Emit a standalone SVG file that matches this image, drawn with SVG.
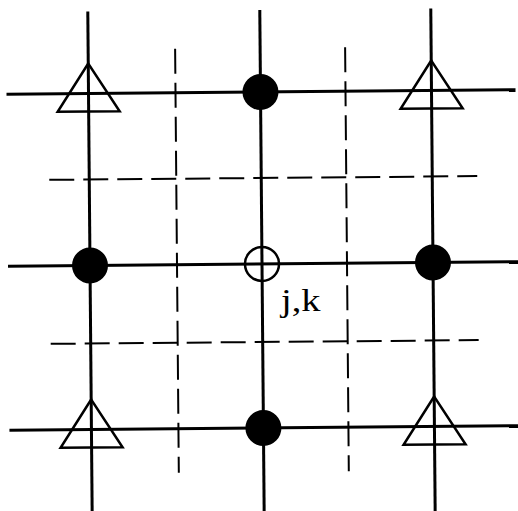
<svg xmlns="http://www.w3.org/2000/svg" width="518" height="511" viewBox="0 0 518 511">
<style>
.solid{stroke:#000;stroke-width:3;fill:none}
.dash{stroke:#000;stroke-width:2;fill:none;stroke-dasharray:25 9}
.tri{stroke:#000;stroke-width:2.5;fill:none;stroke-linejoin:miter}
.dot{fill:#000}
.open{fill:none;stroke:#000;stroke-width:2.5}
.lbl{font-family:"Liberation Serif","Times New Roman",serif;font-size:32px;fill:#000}
</style>
<rect width="518" height="511" fill="#fff"/>
<g transform="rotate(-0.5 262 264)">
<g id="connectors">
<line class="solid" x1="90" y1="10" x2="90" y2="515"/>
<line class="solid" x1="262" y1="10" x2="262" y2="515"/>
<line class="solid" x1="433" y1="10" x2="433" y2="515"/>
<line class="solid" x1="8" y1="92" x2="517" y2="92"/>
<line class="solid" x1="8" y1="264" x2="520" y2="264"/>
<line class="solid" x1="8" y1="428" x2="520" y2="428"/>
<line class="dash" x1="177" y1="48" x2="177" y2="472"/>
<line class="dash" x1="347" y1="48" x2="347" y2="472"/>
<line class="dash" x1="50" y1="178" x2="478" y2="178"/>
<line class="dash" x1="50" y1="342" x2="478" y2="342"/>
</g>
<g id="tri-tl"><polygon class="tri" points="90,62 59,110 121,110"/></g>
<g id="tri-tr"><polygon class="tri" points="433,62 402,110 464,110"/></g>
<g id="tri-bl"><polygon class="tri" points="90,398 59,446 121,446"/></g>
<g id="tri-br"><polygon class="tri" points="433,398 402,446 464,446"/></g>
<g id="dot-top"><circle class="dot" cx="262" cy="92" r="18"/></g>
<g id="dot-left"><circle class="dot" cx="90" cy="264" r="18"/></g>
<g id="dot-right"><circle class="dot" cx="433" cy="264" r="18"/></g>
<g id="dot-bottom"><circle class="dot" cx="262" cy="428" r="18"/></g>
<g id="center"><circle class="open" cx="262" cy="264" r="17"/></g>
</g>
<g id="label" transform="translate(281 311) scale(1.2 1)"><text class="lbl" x="0" y="0">j,k</text></g>
</svg>
